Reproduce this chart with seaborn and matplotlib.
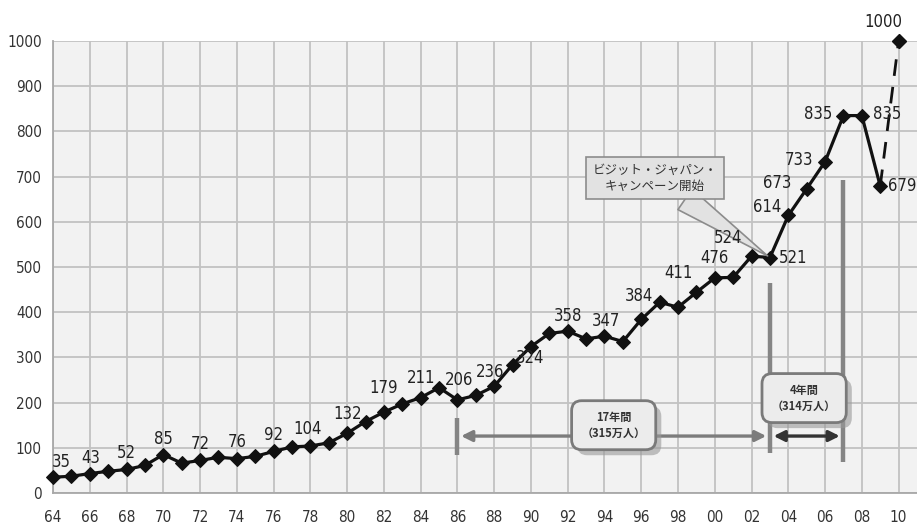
import matplotlib
matplotlib.use("Agg")
import matplotlib.pyplot as plt
import matplotlib.patheffects as pe
from matplotlib import font_manager
import seaborn as sns
import pandas as pd

# Visitor arrivals to Japan (10,000 persons)
years = list(range(1964, 2010))
visitors = [35, 37, 43, 48, 52, 61, 85, 66, 72, 79,
            76, 81, 92, 102, 104, 111, 132, 158, 179, 197,
            211, 233, 206, 216, 236, 284, 324, 353, 358, 341,
            347, 335, 384, 422, 411, 444, 476, 477, 524, 521,
            614, 673, 733, 835, 835, 679]
target_year = 2010
target_value = 1000

# Years whose values are written next to the marker
labeled_years = [1964, 1966, 1968, 1970, 1972, 1974, 1976, 1978, 1980, 1982,
                 1984, 1986, 1988, 1990, 1992, 1994, 1996, 1998, 2000, 2002,
                 2003, 2004, 2005, 2006, 2007, 2008, 2009]

x_ticks = list(range(1964, 2011, 2))
x_tick_labels = [f"{y % 100:02d}" for y in x_ticks]
y_ticks = list(range(0, 1001, 100))

campaign_text = "ビジット・ジャパン・\nキャンペーン開始"
period1_text = "17年間\n（315万人）"
period2_text = "4年間\n（314万人）"

df = pd.DataFrame({"year": years, "visitors": visitors})

sns.set_style("whitegrid")

# pick a condensed face for the numbers when one is available
fonts = font_manager.fontManager.ttflist
names = {f.name for f in fonts}
num_stretch = "normal"
if "Liberation Sans Narrow" in names:
    num_family = "Liberation Sans Narrow"
elif any(f.name == "DejaVu Sans" and f.stretch in ("condensed", "semi-condensed") for f in fonts):
    num_family = "DejaVu Sans"
    num_stretch = "condensed"
else:
    num_family = "Liberation Sans"
condensed = num_family != "Liberation Sans"
label_size = 12 if condensed else 11
tick_size = 11 if condensed else 10

plt.rcParams["font.family"] = [num_family, "Noto Sans CJK JP"]
plt.rcParams["font.stretch"] = num_stretch

fig = plt.figure(figsize=(9.17, 5.27), dpi=100)
ax = fig.add_axes([53 / 917, 34 / 527, 864 / 917, 452 / 527])
ax.set_facecolor("#f2f2f2")

line_color = "#111111"
sns.lineplot(data=df, x="year", y="visitors", ax=ax, color=line_color,
             linewidth=2.3, marker="D", markersize=7.5, markeredgecolor=line_color,
             zorder=5)
for ln in ax.lines:
    ln.set_clip_on(False)

# 2010 goal drawn with a dashed connector
ax.plot([years[-1], target_year], [visitors[-1], target_value], color=line_color,
        lw=2.0, dashes=(6, 4), zorder=4, clip_on=False)
ax.plot([target_year], [target_value], marker="D", markersize=7.5, color=line_color,
        zorder=6, clip_on=False)

# value labels (offsets in points)
offsets = {
    1964: (6, 11), 1966: (1, 11), 1968: (0, 12), 1970: (0, 11.5), 1972: (0, 12),
    1974: (0, 12), 1976: (0, 12), 1978: (-2, 12), 1980: (0, 14), 1982: (0, 17),
    1984: (0, 14), 1986: (1, 14), 1988: (-3, 10), 1990: (-1, -8), 1992: (0, 11),
    1994: (1, 11), 1996: (-2, 17), 1998: (0, 25), 2000: (0, 14), 2002: (-17, 13),
    2003: (17, 0), 2004: (-15, 6), 2005: (-21, 4), 2006: (-19, 1.5), 2007: (-18, 1),
    2008: (18, 1), 2009: (16, 0),
}
text_color = "#222222"
for yr in labeled_years:
    val = visitors[years.index(yr)]
    dx, dy = offsets[yr]
    ax.annotate(str(val), (yr, val), xytext=(dx, dy), textcoords="offset points",
                ha="center", va="center", fontsize=label_size, color=text_color,
                zorder=9, annotation_clip=False)
ax.annotate(str(target_value), (target_year, target_value), xytext=(-11, 14),
            textcoords="offset points", ha="center", va="center", fontsize=label_size,
            color=text_color, zorder=9, annotation_clip=False)

# axes styling
ax.set_xlim(1964, 2011)
ax.set_ylim(0, 1000)
ax.set_xticks(x_ticks)
ax.set_xticklabels(x_tick_labels)
ax.set_yticks(y_ticks)
ax.set_xlabel("")
ax.set_ylabel("")
ax.grid(True, color="#c2c2c2", linewidth=1.3)
ax.tick_params(axis="x", length=0, pad=12, labelsize=tick_size, labelcolor="#333333")
ax.tick_params(axis="y", length=0, pad=8, labelsize=tick_size, labelcolor="#333333")
for side in ["top", "right"]:
    ax.spines[side].set_visible(False)
for side in ["left", "bottom"]:
    ax.spines[side].set_color("#a8a8a8")
    ax.spines[side].set_linewidth(1.3)

# period markers
bar_color = "#858585"
ax.plot([1986, 1986], [84, 166], color=bar_color, lw=3.2, solid_capstyle="butt", zorder=3)
ax.plot([2003, 2003], [88, 465], color=bar_color, lw=3.2, solid_capstyle="butt", zorder=3)
ax.plot([2007, 2007], [69, 692], color=bar_color, lw=3.2, solid_capstyle="butt", zorder=3)

ax.annotate("", xy=(1986.2, 126), xytext=(2002.8, 126),
            arrowprops=dict(arrowstyle="<|-|>", color="#7c7c7c", lw=2.4,
                            mutation_scale=16, shrinkA=0, shrinkB=0), zorder=3)
ax.annotate("", xy=(2003.2, 126), xytext=(2006.8, 126),
            arrowprops=dict(arrowstyle="<|-|>", color="#333333", lw=2.4,
                            mutation_scale=16, shrinkA=0, shrinkB=0), zorder=3)

shadow = [pe.SimplePatchShadow(offset=(4, -4), shadow_rgbFace="#999999", alpha=0.6),
          pe.Normal()]
for (bx, by), txt in [((1994.5, 150), period1_text), ((2004.86, 210), period2_text)]:
    t = ax.text(bx, by, txt, ha="center", va="center", fontsize=8, fontweight="bold",
                color="#333333", family=["Noto Sans CJK JP"], linespacing=1.3, zorder=8,
                bbox=dict(boxstyle="round,pad=0.9,rounding_size=0.9", fc="#ececec",
                          ec="#7a7a7a", lw=2))
    t.get_bbox_patch().set_path_effects(shadow)

# campaign callout
ax.annotate(campaign_text, xy=(2003, 521), xytext=(1996.75, 697),
            ha="center", va="center", fontsize=9, color="#333333",
            family=["Noto Sans CJK JP"], linespacing=1.3, zorder=8,
            bbox=dict(boxstyle="square,pad=0.5", fc="#e2e2e2", ec="#8c8c8c", lw=1.2),
            arrowprops=dict(arrowstyle="wedge,tail_width=2.0,shrink_factor=0.5",
                            fc="#e2e2e2", ec="#8c8c8c", lw=1.2, relpos=(0.66, 0.0),
                            shrinkA=0, shrinkB=2))

fig.savefig("out.png", dpi=100, facecolor="white")
